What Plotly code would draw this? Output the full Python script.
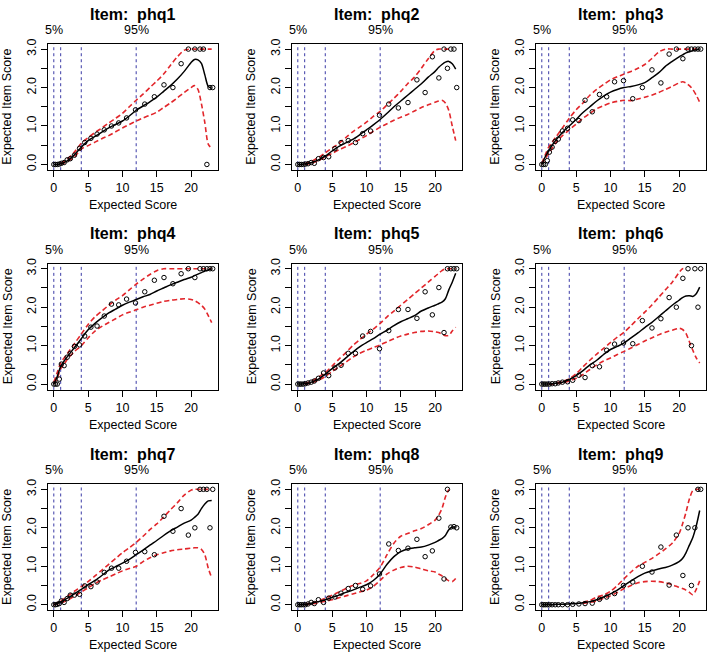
import plotly.graph_objects as go

# item names, one panel each
ITEMS = ["phq1", "phq2", "phq3", "phq4", "phq5", "phq6", "phq7", "phq8", "phq9"]

# expected total score of each observed group (same for every item)
SCORE_X = [0, 0.25, 0.5, 0.8, 1.1, 1.5, 1.95, 2.4, 3.0, 3.75, 4.5, 5.4, 6.3, 7.35,
           8.4, 9.45, 10.6, 11.9, 13.25, 14.65, 16.05, 17.35, 18.55, 19.6, 20.55,
           21.3, 21.8, 22.3, 22.75, 23.15]

# x positions where the smoothed curves were read
CURVE_X = [0, 0.5, 1, 1.5, 2, 3, 4, 5, 6, 7, 8, 9, 10, 11, 12, 13, 14, 15, 16, 17,
           18, 19, 20, 20.5, 21, 21.5, 22, 22.5, 23]

# dashed reference lines and their top labels
CUT_POINTS = [0, 1, 4, 12]
CUT_LABELS = {0: "5%", 12: "95%"}

# observed item scores
phq1_obs = [0, 0, 0, 0.01, 0.03, 0.05, 0.12, 0.15, 0.24, 0.42, 0.57, 0.68, 0.79, 0.9,
            1.0, 1.08, 1.21, 1.42, 1.57, 1.76, 2.07, 2.0, 2.62, 3.0, 3.0, 3.0, 3.0,
            0.0, 2.0, 2.0]
phq2_obs = [0, 0, 0, 0, 0.01, 0.02, 0.05, 0.03, 0.15, 0.18, 0.2, 0.41, 0.57, 0.62,
            0.57, 0.8, 0.87, 1.28, 1.57, 1.47, 1.61, 2.2, 1.87, 2.8, 2.25, 3.0, 2.5,
            3.0, 3.0, 2.0]
phq3_obs = [0, 0, 0, 0.1, 0.32, 0.45, 0.6, 0.66, 0.87, 0.94, 1.16, 1.14, 1.67, 1.37,
            1.82, 1.76, 2.15, 2.18, 1.71, 2.0, 2.46, 2.12, 2.87, 3.0, 2.75, 3.0, 3.0,
            3.0, 3.0, 3.0]
phq4_obs = [0, 0, 0, 0.13, 0.52, 0.48, 0.7, 0.8, 0.98, 1.02, 1.25, 1.48, 1.51, 1.77,
            2.08, 2.06, 2.21, 2.11, 2.4, 2.7, 2.77, 2.61, 2.87, 3.0, 2.77, 3.0, 3.0,
            3.0, 3.0, 3.0]
phq5_obs = [0, 0, 0, 0, 0.01, 0.03, 0.05, 0.08, 0.15, 0.29, 0.22, 0.42, 0.49, 0.8,
            0.8, 1.25, 1.37, 0.92, 1.39, 1.94, 1.94, 1.71, 2.4, 1.8, 2.51, 1.34, 3.0,
            3.0, 3.0, 3.0]
phq6_obs = [0, 0, 0, 0, 0, 0.01, 0.01, 0.03, 0.05, 0.06, 0.1, 0.23, 0.17, 0.48,
            0.45, 0.88, 1.04, 1.07, 1.05, 1.65, 1.46, 1.7, 2.25, 2.0, 2.75, 3.0, 1.0,
            3.0, 2.0, 3.0]
phq7_obs = [0, 0, 0.01, 0.03, 0.1, 0.06, 0.16, 0.25, 0.25, 0.27, 0.49, 0.47, 0.59,
            0.84, 0.95, 0.95, 1.13, 1.36, 1.38, 1.3, 2.3, 1.91, 2.5, 1.81, 2.0, 3.0,
            3.0, 3.0, 2.0, 3.0]
phq8_obs = [0, 0, 0, 0, 0, 0.02, 0.06, 0.03, 0.13, 0.06, 0.17, 0.2, 0.3, 0.42, 0.5,
            0.4, 0.49, 0.8, 1.58, 1.41, 1.47, 1.7, 1.25, 1.4, 2.25, 0.67, 3.0, 2.02,
            2.03, 2.0]
phq9_obs = [0, 0, 0, 0, 0, 0, 0, 0, 0, 0, 0.01, 0.02, 0.03, 0.04, 0.14, 0.2, 0.29,
            0.5, 0.59, 1.0, 0.85, 1.5, 0.51, 1.81, 0.76, 2.0, 0.5, 2.0, 3.0, 3.0]

# smoothed expected item score
phq1_fit = [0, 0, 0.02, 0.05, 0.1, 0.25, 0.45, 0.62, 0.73, 0.84, 0.95, 1.04, 1.13,
            1.26, 1.41, 1.52, 1.63, 1.75, 1.9, 2.05, 2.22, 2.42, 2.65, 2.73, 2.72,
            2.63, 2.33, 2.03, 1.99]
phq2_fit = [0, 0, 0.01, 0.03, 0.05, 0.12, 0.22, 0.35, 0.47, 0.56, 0.65, 0.77, 0.9,
            1.03, 1.17, 1.33, 1.5, 1.65, 1.8, 1.95, 2.1, 2.27, 2.42, 2.52, 2.6, 2.66,
            2.68, 2.62, 2.48]
phq3_fit = [0, 0.2, 0.35, 0.5, 0.62, 0.83, 1.0, 1.17, 1.35, 1.5, 1.65, 1.78, 1.88,
            1.95, 2.0, 2.03, 2.07, 2.13, 2.25, 2.38, 2.55, 2.68, 2.8, 2.85, 2.9, 2.93,
            2.96, 2.98, 3.0]
phq4_fit = [0, 0.2, 0.46, 0.6, 0.72, 0.95, 1.18, 1.41, 1.58, 1.72, 1.85, 1.95, 2.05,
            2.13, 2.2, 2.27, 2.33, 2.42, 2.5, 2.58, 2.65, 2.72, 2.78, 2.82, 2.86, 2.9,
            2.94, 2.97, 3.0]
phq5_fit = [0, 0, 0.01, 0.02, 0.05, 0.13, 0.26, 0.4, 0.53, 0.68, 0.83, 0.97, 1.08,
            1.18, 1.3, 1.4, 1.52, 1.62, 1.7, 1.78, 1.9, 1.98, 2.05, 2.09, 2.13, 2.22,
            2.45, 2.65, 2.88]
phq6_fit = [0, 0, 0, 0.01, 0.02, 0.05, 0.12, 0.22, 0.35, 0.5, 0.62, 0.77, 0.9, 0.98,
            1.07, 1.2, 1.33, 1.47, 1.6, 1.75, 1.9, 2.05, 2.18, 2.25, 2.29, 2.3, 2.28,
            2.35, 2.52]
phq7_fit = [0, 0.03, 0.07, 0.12, 0.17, 0.28, 0.4, 0.52, 0.63, 0.76, 0.9, 0.99, 1.08,
            1.18, 1.3, 1.42, 1.55, 1.67, 1.8, 1.92, 2.02, 2.12, 2.2, 2.27, 2.35, 2.5,
            2.62, 2.7, 2.71]
phq8_fit = [0, 0, 0, 0.02, 0.04, 0.08, 0.13, 0.19, 0.25, 0.32, 0.38, 0.45, 0.52, 0.63,
            0.8, 1.05, 1.25, 1.38, 1.45, 1.48, 1.5, 1.55, 1.62, 1.67, 1.72, 1.8, 1.95,
            2.02, 2.02]
phq9_fit = [0, 0, 0, 0, 0.01, 0.01, 0.02, 0.03, 0.05, 0.08, 0.13, 0.2, 0.28, 0.38,
            0.5, 0.62, 0.73, 0.82, 0.88, 0.93, 0.97, 1.03, 1.12, 1.2, 1.35, 1.55,
            1.75, 2.05, 2.45]

# upper confidence band
phq1_hi = [None, None, 0.03, 0.08, 0.15, 0.32, 0.55, 0.7, 0.83, 0.95, 1.08, 1.2,
           1.33, 1.5, 1.67, 1.83, 2.0, 2.17, 2.35, 2.58, 2.8, 2.97, 3.0, 3.0, 3.0,
           3.0, 3.0, 3.0, 3.0]
phq2_hi = [None, None, 0.02, 0.05, 0.08, 0.18, 0.3, 0.43, 0.55, 0.7, 0.85, 0.97, 1.1,
           1.25, 1.38, 1.55, 1.72, 1.9, 2.1, 2.27, 2.5, 2.75, 2.97, 3.0, 3.0, 3.0,
           3.0, 3.0, None]
phq3_hi = [0.03, 0.25, 0.45, 0.58, 0.7, 0.95, 1.2, 1.42, 1.6, 1.8, 1.95, 2.08, 2.2,
           2.28, 2.35, 2.42, 2.5, 2.6, 2.75, 2.92, 3.0, 3.0, 3.0, 3.0, 3.0, 3.0, 3.0,
           3.0, 3.0]
phq4_hi = [0.05, 0.3, 0.55, 0.68, 0.8, 1.05, 1.3, 1.55, 1.75, 1.9, 2.05, 2.18, 2.3,
           2.45, 2.6, 2.73, 2.85, 2.95, 3.0, 3.0, 3.0, 3.0, 3.0, 3.0, 3.0, 3.0, 3.0,
           3.0, 3.0]
phq5_hi = [None, None, 0.02, 0.04, 0.08, 0.18, 0.3, 0.47, 0.65, 0.82, 1.0, 1.15, 1.3,
           1.43, 1.58, 1.75, 1.9, 2.05, 2.2, 2.35, 2.5, 2.65, 2.8, 2.88, 2.95, 3.0,
           3.0, 3.0, 3.0]
phq6_hi = [None, None, 0.0, 0.01, 0.03, 0.07, 0.14, 0.27, 0.45, 0.62, 0.78, 0.93,
           1.08, 1.22, 1.35, 1.52, 1.7, 1.87, 2.05, 2.25, 2.45, 2.65, 2.9, 3.0, 3.0,
           None, None, None, None]
phq7_hi = [0, 0.05, 0.1, 0.16, 0.22, 0.35, 0.47, 0.6, 0.75, 0.9, 1.05, 1.2, 1.35,
           1.48, 1.62, 1.78, 1.95, 2.1, 2.28, 2.47, 2.65, 2.85, 2.98, 3.0, 3.0, 3.0,
           3.0, 3.0, 3.0]
phq8_hi = [None, None, 0.0, 0.03, 0.05, 0.1, 0.17, 0.25, 0.33, 0.42, 0.5, 0.55, 0.62,
           0.78, 0.98, 1.3, 1.6, 1.78, 1.85, 1.92, 1.98, 2.08, 2.2, 2.32, 2.5, 2.8,
           3.0, None, None]
phq9_hi = [None, None, None, None, None, None, None, None, 0.06, 0.11, 0.2, 0.25,
           0.35, 0.5, 0.68, 0.85, 1.0, 1.1, 1.2, 1.32, 1.45, 1.6, 1.85, 2.1, 2.4,
           2.75, 2.97, 3.0, 3.0]

# lower confidence band
phq1_lo = [None, None, 0.01, 0.04, 0.08, 0.2, 0.4, 0.49, 0.58, 0.67, 0.75, 0.85,
           0.95, 1.04, 1.13, 1.21, 1.28, 1.36, 1.48, 1.6, 1.73, 1.87, 2.0, 2.05, 1.95,
           1.58, 1.09, 0.53, 0.42]
phq2_lo = [None, None, 0.0, 0.01, 0.03, 0.1, 0.2, 0.29, 0.38, 0.46, 0.55, 0.65, 0.75,
           0.86, 0.97, 1.06, 1.15, 1.23, 1.3, 1.39, 1.48, 1.55, 1.62, 1.65, 1.67, 1.6,
           1.4, 1.0, 0.62]
phq3_lo = [0, 0.15, 0.28, 0.42, 0.55, 0.75, 0.9, 1.05, 1.2, 1.33, 1.45, 1.53, 1.6,
           1.64, 1.67, 1.66, 1.7, 1.75, 1.8, 1.87, 1.95, 2.03, 2.12, 2.15, 2.12, 2.05,
           1.95, 1.8, 1.62]
phq4_lo = [0, 0.15, 0.4, 0.52, 0.65, 0.85, 1.0, 1.2, 1.38, 1.5, 1.6, 1.7, 1.8, 1.87,
           1.93, 2.0, 2.05, 2.1, 2.15, 2.18, 2.2, 2.22, 2.2, 2.17, 2.12, 2.05, 1.95,
           1.78, 1.6]
phq5_lo = [None, None, 0.0, 0.01, 0.03, 0.1, 0.2, 0.33, 0.45, 0.57, 0.7, 0.8, 0.88,
           0.95, 1.02, 1.1, 1.18, 1.25, 1.3, 1.34, 1.37, 1.38, 1.36, 1.34, 1.3, 1.26,
           1.27, 1.38, 1.48]
phq6_lo = [None, None, 0.0, 0.0, 0.01, 0.03, 0.08, 0.15, 0.25, 0.38, 0.5, 0.6, 0.68,
           0.77, 0.85, 0.94, 1.03, 1.12, 1.2, 1.28, 1.35, 1.4, 1.45, 1.42, 1.32, 1.1,
           0.88, 0.68, 0.55]
phq7_lo = [0, 0.02, 0.05, 0.08, 0.12, 0.22, 0.33, 0.44, 0.55, 0.64, 0.72, 0.8, 0.88,
           0.94, 1.0, 1.12, 1.22, 1.3, 1.35, 1.4, 1.43, 1.45, 1.47, 1.48, 1.48, 1.44,
           1.3, 0.95, 0.7]
phq8_lo = [None, None, 0.0, 0.01, 0.02, 0.05, 0.09, 0.13, 0.18, 0.23, 0.28, 0.33,
           0.38, 0.48, 0.63, 0.8, 0.9, 0.97, 1.0, 0.98, 0.93, 0.88, 0.85, 0.8, 0.75,
           0.68, 0.62, 0.6, 0.68]
phq9_lo = [None, None, None, None, None, None, None, None, 0.03, 0.06, 0.1, 0.17,
           0.23, 0.32, 0.42, 0.5, 0.57, 0.6, 0.61, 0.6, 0.57, 0.52, 0.45, 0.42, 0.38,
           0.32, 0.26, 0.4, 0.62]

OBS = [phq1_obs, phq2_obs, phq3_obs, phq4_obs, phq5_obs, phq6_obs, phq7_obs, phq8_obs, phq9_obs]
FIT = [phq1_fit, phq2_fit, phq3_fit, phq4_fit, phq5_fit, phq6_fit, phq7_fit, phq8_fit, phq9_fit]
HI = [phq1_hi, phq2_hi, phq3_hi, phq4_hi, phq5_hi, phq6_hi, phq7_hi, phq8_hi, phq9_hi]
LO = [phq1_lo, phq2_lo, phq3_lo, phq4_lo, phq5_lo, phq6_lo, phq7_lo, phq8_lo, phq9_lo]

# ---- layout in pixels ----
W, H = 709, 656
COL_LEFT = [47.5, 291.5, 535.5]
ROW_TOP = [38.5, 260.5, 483.5]
PANEL_W, PANEL_H = 170.5, 127.5

FONT = "Liberation Sans, Arial, Helvetica, sans-serif"
RED = "#e2262b"
BLUE = "#3a3aa6"

fig = go.Figure()
annotations = []
shapes = []

for i, item in enumerate(ITEMS):
    r, c = divmod(i, 3)
    n = "" if i == 0 else str(i + 1)
    xa, ya = "x" + n, "y" + n

    # confidence band
    for band in (HI[i], LO[i]):
        fig.add_trace(go.Scatter(
            x=CURVE_X, y=band, mode="lines", xaxis=xa, yaxis=ya,
            line=dict(color=RED, width=1.6, dash="5px,3px", shape="spline", smoothing=0.8),
            connectgaps=False, hoverinfo="skip"
        ))

    # observed points
    fig.add_trace(go.Scatter(
        x=SCORE_X, y=OBS[i], mode="markers", xaxis=xa, yaxis=ya,
        marker=dict(symbol="circle-open", size=4.5, color="black", line=dict(width=1))
    ))

    # smoothed curve
    fig.add_trace(go.Scatter(
        x=CURVE_X, y=FIT[i], mode="lines", xaxis=xa, yaxis=ya,
        line=dict(color="black", width=1.5, shape="spline", smoothing=0.8)
    ))

    x0 = COL_LEFT[c] / W
    x1 = (COL_LEFT[c] + PANEL_W) / W
    y1 = 1 - ROW_TOP[r] / H
    y0 = 1 - (ROW_TOP[r] + PANEL_H) / H

    axis_common = dict(
        showline=True, mirror=True, linecolor="black", linewidth=1,
        ticks="outside", ticklen=6, tickwidth=1, tickcolor="black",
        showgrid=False, zeroline=False,
        tickfont=dict(family=FONT, size=12.5, color="black"),
    )
    fig.layout["xaxis" + n] = dict(
        domain=[x0, x1], anchor=ya, range=[-0.92, 23.92],
        tickvals=[0, 5, 10, 15, 20], **axis_common
    )
    fig.layout["yaxis" + n] = dict(
        domain=[y0, y1], anchor=xa, range=[-0.15, 3.13], tickangle=-90,
        tickvals=[0, 0.5, 1, 1.5, 2, 2.5, 3],
        ticktext=["0.0", "", "1.0", "", "2.0", "", "3.0"], **axis_common
    )

    # vertical reference lines
    for v in CUT_POINTS:
        shapes.append(dict(
            type="line", xref=xa, yref=ya + " domain", x0=v, x1=v, y0=0, y1=1,
            line=dict(color=BLUE, width=1, dash="3px,3px"), layer="below"
        ))
    for v, lab in CUT_LABELS.items():
        annotations.append(dict(
            text=lab, xref=xa, yref=ya + " domain", x=v, y=1, yanchor="middle",
            yshift=14, showarrow=False, font=dict(family=FONT, size=12.5, color="black")
        ))

    # panel title and axis titles
    annotations.append(dict(
        text="<b>Item:\u00a0 " + item + "</b>", xref=xa + " domain", yref=ya + " domain",
        x=0.5, y=1, yanchor="middle", yshift=30, showarrow=False,
        font=dict(family=FONT, size=16, color="black")
    ))
    annotations.append(dict(
        text="Expected Score", xref=xa + " domain", yref=ya + " domain",
        x=0.5, y=0, yanchor="middle", yshift=-35, showarrow=False,
        font=dict(family=FONT, size=12.5, color="black")
    ))
    annotations.append(dict(
        text="Expected Item Score", xref=xa + " domain", yref=ya + " domain",
        x=0, y=0.5, xanchor="center", xshift=-40, textangle=-90, showarrow=False,
        font=dict(family=FONT, size=12.5, color="black")
    ))

fig.update_layout(
    width=W, height=H,
    margin=dict(l=0, r=0, t=0, b=0),
    paper_bgcolor="white", plot_bgcolor="white",
    showlegend=False,
    annotations=annotations, shapes=shapes,
)

# the page body has a default 8px margin; drop it so the figure sits at the corner
fig.write_html("out.html", config={"displayModeBar": False},
               post_script="document.body.style.margin = '0px';")
